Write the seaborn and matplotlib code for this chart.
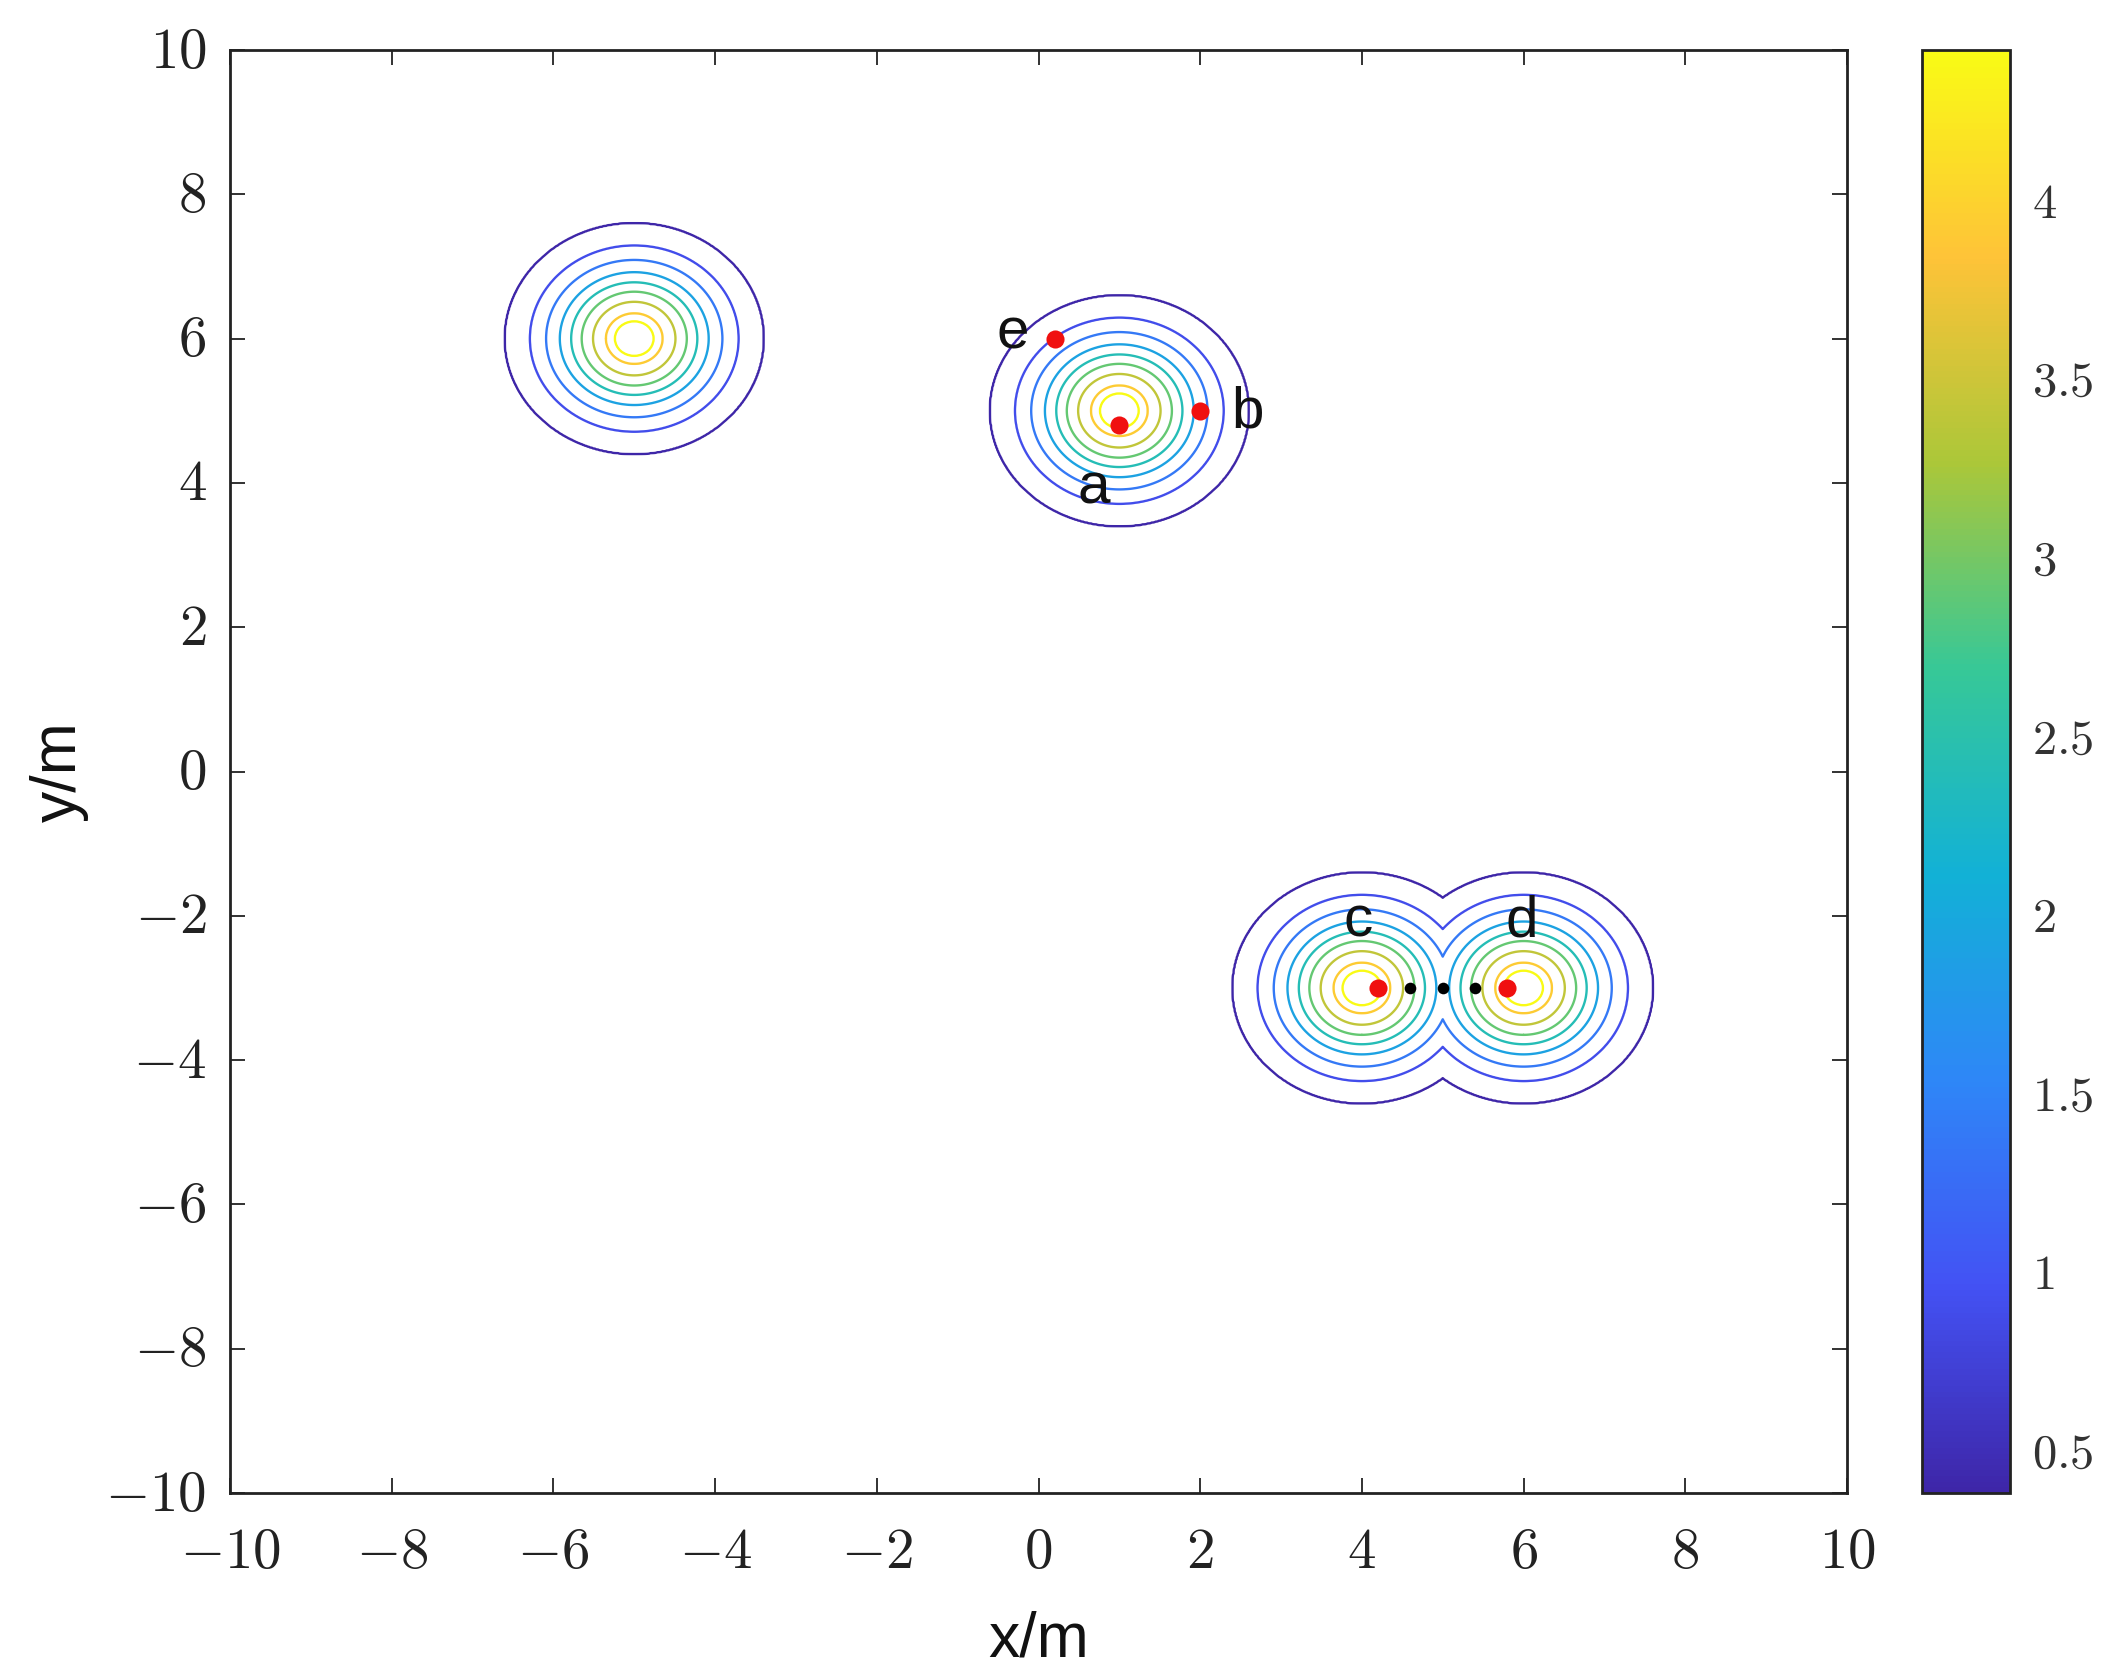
import numpy as np
import matplotlib
matplotlib.use("Agg")
import matplotlib.pyplot as plt
import seaborn as sns
from matplotlib.colors import LinearSegmentedColormap, Normalize
from matplotlib.cm import ScalarMappable
from matplotlib.transforms import ScaledTranslation

# contour levels and the ring radius (in m) read for each of them
levels = [0.38, 0.885, 1.39, 1.895, 2.4, 2.905, 3.41, 3.915, 4.42]
ring_radius = [1.60, 1.29, 1.09, 0.92, 0.78, 0.65, 0.51, 0.35, 0.24]
centre_x = [-5, 1, 4, 6]
centre_y = [6, 5, -3, -3]

red_x = [1, 2, 0.2, 4.2, 5.8]
red_y = [4.8, 5, 6, -3, -3]
black_x = [4.6, 5, 5.4]
black_y = [-3, -3, -3]

point_names = ["a", "b", "c", "d", "e"]
name_x = [0.68, 2.58, 3.95, 5.98, -0.32]
name_y = [3.92, 4.97, -2.08, -2.08, 6.07]

axis_ticks = [-10, -8, -6, -4, -2, 0, 2, 4, 6, 8, 10]
cbar_ticks = [0.5, 1, 1.5, 2, 2.5, 3, 3.5, 4]
cbar_labels = ["$0.5$", "$1$", "$1.5$", "$2$", "$2.5$", "$3$", "$3.5$", "$4$"]

# parula-like colours
parula_colors = ["#3e26a8", "#4352f4", "#2e87f7", "#12b1d6", "#37c897",
                 "#abc739", "#fec338", "#f9fb15"]

sns.set_theme(style="white")
plt.rcParams["font.family"] = ["Liberation Sans", "DejaVu Sans"]
plt.rcParams["mathtext.fontset"] = "cm"

cmap = LinearSegmentedColormap.from_list("parula_like", parula_colors)
norm = Normalize(levels[0], levels[-1])

fig = plt.figure(figsize=(21.08, 16.79), dpi=100)
ax = fig.add_axes([230 / 2108, 1 - 1493 / 1679, (1847 - 230) / 2108, (1493 - 50) / 1679])
cax = fig.add_axes([1922 / 2108, 1 - 1493 / 1679, (2010 - 1922) / 2108, (1493 - 50) / 1679])

# build the field on a grid from the radii
gx, gy = np.meshgrid(np.linspace(-10, 10, 1601), np.linspace(-10, 10, 1601))
prof_r = ring_radius[::-1]
prof_v = levels[::-1]
field = np.zeros_like(gx)
for cx, cy in zip(centre_x, centre_y):
    r = np.hypot(gx - cx, gy - cy)
    part = np.interp(r, [0] + prof_r + [3], [5] + prof_v + [0])
    field = np.maximum(field, part)

ax.contour(gx, gy, field, levels=levels, cmap=cmap, norm=norm, linewidths=1.7)

sns.scatterplot(x=red_x, y=red_y, color="#f01010", s=170, linewidth=0, ax=ax, zorder=5)
sns.scatterplot(x=black_x, y=black_y, color="black", s=70, linewidth=0, ax=ax, zorder=5)

for name, nx, ny in zip(point_names, name_x, name_y):
    ax.text(nx, ny, name, fontsize=42, color="#111111", ha="center", va="center", zorder=6)

ax.set_xlim(-10, 10)
ax.set_ylim(-10, 10)
ax.set_xticks(axis_ticks)
ax.set_yticks(axis_ticks)
ax.set_xticklabels([f"${t}$" for t in axis_ticks])
ax.set_yticklabels([f"${t}$" for t in axis_ticks])
ax.tick_params(direction="in", length=11, width=1.3, top=True, right=True, bottom=True, left=True,
               labelsize=41, color="#222222", labelcolor="#222222")
ax.tick_params(axis="x", pad=24)
ax.tick_params(axis="y", pad=17)
ax.set_xlabel("x/m", fontsize=45, color="#111111", labelpad=22)
ax.set_ylabel("y/m", fontsize=45, color="#111111", labelpad=12)
for s in ax.spines.values():
    s.set_linewidth(2)
    s.set_color("#222222")

# y tick labels sit a little above their ticks
up = ScaledTranslation(0, 2.5 / 72, fig.dpi_scale_trans)
for lab in ax.get_yticklabels():
    lab.set_transform(lab.get_transform() + up)

# colorbar
cb = fig.colorbar(ScalarMappable(norm=norm, cmap=cmap), cax=cax)
cb.set_ticks(cbar_ticks)
cb.set_ticklabels(cbar_labels)
cb.ax.tick_params(direction="in", length=11, width=1.3, right=True, left=False, labelsize=35,
                  color="#222222", labelcolor="#333333", pad=16)
cb.outline.set_linewidth(2)
cb.outline.set_edgecolor("#222222")

fig.savefig("out.png", dpi=100, facecolor="white")
